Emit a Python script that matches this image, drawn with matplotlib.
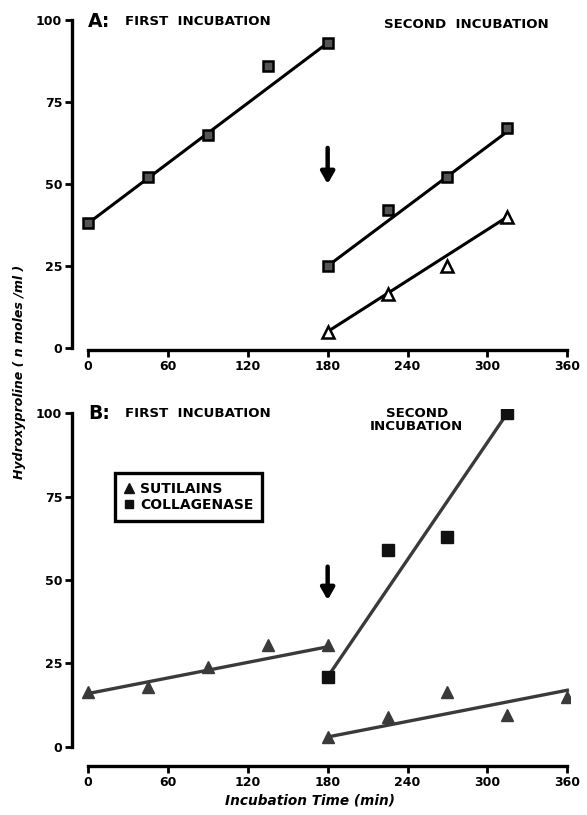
import matplotlib
matplotlib.use("Agg")
import matplotlib.pyplot as plt
from matplotlib.lines import Line2D

# ---- data -------------------------------------------------------------
time_first = [0, 45, 90, 135, 180]
time_second = [180, 225, 270, 315]
time_second_b = [180, 225, 270, 315, 360]

# Panel A
a_first_coll = [38, 52, 65, 86, 93]
a_second_coll = [25, 42, 52, 67]
a_second_sut = [5, 16.5, 25, 40]
a_fit_first = ([0, 180], [38, 93])
a_fit_coll = ([180, 315], [25, 66])
a_fit_sut = ([180, 315], [5, 40])

# Panel B
b_first_sut = [16.5, 18, 24, 30.5, 30.5]
b_second_coll = [21, 59, 63, 100]
b_second_sut = [3, 9, 16.5, 9.5, 15]
b_fit_first = ([0, 180], [16, 30])
b_fit_coll = ([180, 315], [21, 100])
b_fit_sut = ([180, 360], [3, 17])

x_ticks = [0, 60, 120, 180, 240, 300, 360]
y_ticks = [0, 25, 50, 75, 100]
y_ticklabels = ["0", "25", "50", "75", "100"]

# ---- figure -----------------------------------------------------------
W, H = 587, 815
fig = plt.figure(figsize=(W / 100, H / 100), dpi=100)
fig.patch.set_facecolor("white")


def px_axes(left, right, top, bottom):
    return fig.add_axes([left / W, 1 - bottom / H, (right - left) / W, (bottom - top) / H])


def style(ax, ylim):
    ax.set_xlim(-12, 362)
    ax.set_ylim(*ylim)
    for s in ("top", "right"):
        ax.spines[s].set_visible(False)
    for s in ("left", "bottom"):
        ax.spines[s].set_linewidth(2.4)
        ax.spines[s].set_color("black")
    ax.spines["left"].set_bounds(0, 100)
    ax.spines["bottom"].set_bounds(0, 360)
    ax.set_xticks(x_ticks)
    ax.set_yticks(y_ticks)
    ax.set_yticklabels(y_ticklabels)
    ax.tick_params(direction="out", length=5, width=2, labelsize=9, pad=2)
    for lab in ax.get_xticklabels() + ax.get_yticklabels():
        lab.set_fontweight("heavy")
    ax.set_facecolor("none")


def arrow(ax, x, y_top, y_bot):
    ax.annotate("", xy=(x, y_bot), xytext=(x, y_top),
                arrowprops=dict(arrowstyle="-|>,head_width=0.4,head_length=0.7",
                                lw=3.2, color="black", shrinkA=0, shrinkB=0))


# ---- panel A ----------------------------------------------------------
axA = px_axes(72, 570, 16, 350)
style(axA, (-0.61, 101.22))

sq_a = dict(marker="s", ms=7, mfc="#555555", mec="black", mew=1.8, ls="none", zorder=3)
tri_a = dict(marker="^", ms=8, mfc="white", mec="black", mew=1.8, ls="none", zorder=3)

axA.plot(*a_fit_first, color="black", lw=2.2)
axA.plot(*a_fit_coll, color="black", lw=2.2)
axA.plot(*a_fit_sut, color="black", lw=2.2)
axA.plot(time_first, a_first_coll, **sq_a)
axA.plot(time_second, a_second_coll, **sq_a)
axA.plot(time_second, a_second_sut, **tri_a)
arrow(axA, 180, 61, 50)

title_kw = dict(fontsize=9.6, fontweight="heavy", va="center")
axA.text(0, 99.4, "A:", fontsize=13.5, fontweight="heavy", ha="left", va="center")
axA.text(27.8, 99.4, "FIRST  INCUBATION", ha="left", **title_kw)
axA.text(284, 98.5, "SECOND  INCUBATION", ha="center", **title_kw)

# ---- panel B ----------------------------------------------------------
axB = px_axes(72, 570, 409, 766)
style(axB, (-5.69, 101.2))

gray = "#3a3a3a"
sq_b = dict(marker="s", ms=8, mfc="#111111", mec="#111111", ls="none", zorder=3)
tri_b = dict(marker="^", ms=9, mfc=gray, mec=gray, ls="none", zorder=3)

axB.plot(*b_fit_first, color=gray, lw=2.4)
axB.plot(*b_fit_coll, color=gray, lw=2.4)
axB.plot(*b_fit_sut, color=gray, lw=2.4)
axB.plot(time_first, b_first_sut, **tri_b)
axB.plot(time_second, b_second_coll, **sq_b)
axB.plot(time_second_b, b_second_sut, **tri_b)
arrow(axB, 180, 54, 44)

axB.text(0, 100, "B:", fontsize=13.5, fontweight="heavy", ha="left", va="center")
axB.text(27.8, 100, "FIRST  INCUBATION", ha="left", **title_kw)
axB.text(247, 97.9, "SECOND\nINCUBATION", ha="center", linespacing=0.95, **title_kw)

handles = [
    Line2D([], [], marker="^", ms=7, mfc="#111111", mec="#111111", ls="none", label="SUTILAINS"),
    Line2D([], [], marker="s", ms=6, mfc="#111111", mec="#111111", ls="none", label="COLLAGENASE"),
]
leg = fig.legend(handles=handles, loc="upper left",
                 bbox_to_anchor=(115 / W, 1 - 473 / H), borderaxespad=0,
                 frameon=True, fancybox=False, framealpha=1,
                 handlelength=0.7, handletextpad=0.45,
                 borderpad=0.65, labelspacing=0.15,
                 prop=dict(size=10, weight="heavy"))
leg.get_frame().set_edgecolor("black")
leg.get_frame().set_linewidth(2.4)

# ---- shared axis labels ----------------------------------------------
fig.text(310 / W, 1 - 800 / H, "Incubation Time (min)", fontsize=9.8,
         fontweight="heavy", style="italic", ha="center", va="center")
fig.text(20 / W, 1 - 372 / H, "Hydroxyproline ( n moles /ml )", fontsize=9,
         fontweight="heavy", style="italic", ha="center", va="center", rotation=90)

fig.savefig("out.png", dpi=100, facecolor="white")
